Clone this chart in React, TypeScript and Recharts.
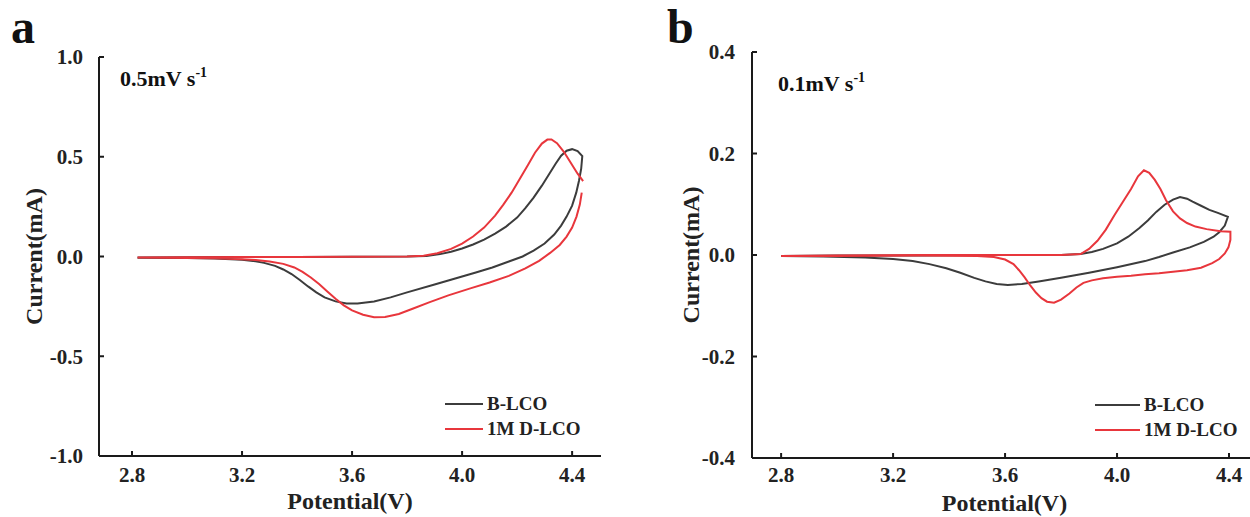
import React from 'react';
import { LineChart, Line, XAxis, YAxis, Legend } from 'recharts';

const FONT = '"Liberation Serif", "Times New Roman", serif';
const GRAY = '#3c3c3c';
const RED = '#e8363c';
const AXIS = '#1a1a1a';

const seriesNames = ['B-LCO', '1M D-LCO'];
const xTicks = [2.8, 3.2, 3.6, 4.0, 4.4];
const yTicksA = [-1, -0.5, 0, 0.5, 1];
const yTicksB = [-0.4, -0.2, 0, 0.2, 0.4];

// panel a, 0.5 mV/s : [potential V, current mA], in scan order
const bLcoA: [number, number][] = [
  [2.82, -0.005], [3.0, -0.004], [3.2, -0.003], [3.4, -0.002], [3.6, -0.001], [3.8, 0.0],
  [3.87, 0.003], [3.92, 0.012], [3.96, 0.024], [4.0, 0.04], [4.04, 0.06], [4.08, 0.085],
  [4.12, 0.115], [4.16, 0.15], [4.2, 0.195], [4.23, 0.242], [4.26, 0.295], [4.29, 0.355],
  [4.315, 0.41], [4.34, 0.465], [4.36, 0.505], [4.38, 0.53], [4.4, 0.538], [4.42, 0.528],
  [4.437, 0.503], [4.433, 0.44], [4.425, 0.38], [4.415, 0.32], [4.4, 0.255], [4.38, 0.2],
  [4.36, 0.155], [4.335, 0.11], [4.3, 0.065], [4.26, 0.03], [4.22, 0.0], [4.17, -0.025],
  [4.11, -0.055], [4.05, -0.08], [4.0, -0.1], [3.9, -0.14], [3.8, -0.18], [3.74, -0.205],
  [3.68, -0.226], [3.62, -0.236], [3.58, -0.235], [3.54, -0.225], [3.5, -0.205], [3.47, -0.18],
  [3.44, -0.15], [3.41, -0.118], [3.38, -0.088], [3.35, -0.065], [3.32, -0.047], [3.28, -0.032],
  [3.24, -0.022], [3.2, -0.016], [3.1, -0.01], [3.0, -0.007], [2.82, -0.006],
];

const dLcoA: [number, number][] = [
  [4.435, 0.32], [4.428, 0.26], [4.416, 0.2], [4.4, 0.145], [4.38, 0.1], [4.355, 0.058],
  [4.32, 0.018], [4.28, -0.022], [4.23, -0.06], [4.17, -0.097], [4.1, -0.13], [4.03, -0.16],
  [3.95, -0.195], [3.88, -0.23], [3.82, -0.262], [3.77, -0.288], [3.72, -0.303], [3.68, -0.304],
  [3.64, -0.292], [3.6, -0.27], [3.57, -0.245], [3.54, -0.212], [3.51, -0.175], [3.48, -0.138],
  [3.45, -0.105], [3.42, -0.077], [3.39, -0.055], [3.35, -0.037], [3.3, -0.025], [3.25, -0.018],
  [3.2, -0.014], [3.1, -0.009], [3.0, -0.007], [2.82, -0.005],
  [3.0, -0.004], [3.2, -0.003], [3.4, -0.002], [3.6, -0.001], [3.8, 0.0], [3.86, 0.004],
  [3.91, 0.016], [3.96, 0.038], [4.0, 0.065], [4.04, 0.1], [4.08, 0.145], [4.12, 0.205],
  [4.15, 0.26], [4.18, 0.32], [4.21, 0.39], [4.24, 0.46], [4.265, 0.52], [4.29, 0.566],
  [4.31, 0.586], [4.325, 0.587], [4.345, 0.568], [4.37, 0.525], [4.395, 0.47], [4.42, 0.415],
  [4.44, 0.378],
];

// panel b, 0.1 mV/s
const bLcoB: [number, number][] = [
  [2.8, -0.002], [3.0, -0.001], [3.3, -0.001], [3.6, 0.0], [3.8, 0.0], [3.87, 0.002],
  [3.91, 0.006], [3.95, 0.012], [4.0, 0.023], [4.04, 0.036], [4.08, 0.053], [4.11, 0.068],
  [4.14, 0.085], [4.17, 0.099], [4.2, 0.109], [4.225, 0.114], [4.25, 0.111], [4.27, 0.105],
  [4.3, 0.097], [4.33, 0.089], [4.36, 0.083], [4.396, 0.075],
  [4.385, 0.058], [4.365, 0.045], [4.345, 0.036], [4.31, 0.026], [4.26, 0.015], [4.2, 0.005],
  [4.15, -0.004], [4.1, -0.012], [4.0, -0.024], [3.9, -0.035], [3.8, -0.045], [3.72, -0.052],
  [3.66, -0.057], [3.61, -0.059], [3.57, -0.057], [3.53, -0.052], [3.49, -0.045], [3.44, -0.035],
  [3.39, -0.026], [3.33, -0.018], [3.27, -0.012], [3.2, -0.008], [3.1, -0.005], [2.95, -0.003],
  [2.8, -0.002],
];

const dLcoB: [number, number][] = [
  [2.8, -0.002], [3.0, -0.001], [3.3, 0.0], [3.6, 0.0], [3.8, 0.0], [3.87, 0.002],
  [3.9, 0.012], [3.93, 0.028], [3.96, 0.05], [3.99, 0.078], [4.02, 0.104], [4.05, 0.13],
  [4.075, 0.155], [4.096, 0.167], [4.115, 0.162], [4.135, 0.148], [4.155, 0.13], [4.175, 0.108],
  [4.2, 0.086], [4.225, 0.072], [4.25, 0.063], [4.28, 0.056], [4.32, 0.051], [4.37, 0.047],
  [4.405, 0.046],
  [4.405, 0.03], [4.398, 0.015], [4.385, 0.003], [4.365, -0.008], [4.34, -0.016], [4.3, -0.025],
  [4.25, -0.03], [4.2, -0.033], [4.15, -0.036], [4.1, -0.038], [4.05, -0.041], [4.0, -0.043],
  [3.95, -0.046], [3.91, -0.05], [3.88, -0.055], [3.855, -0.064], [3.83, -0.076], [3.8, -0.088],
  [3.775, -0.094], [3.75, -0.092], [3.73, -0.085], [3.71, -0.074], [3.69, -0.06], [3.67, -0.044],
  [3.65, -0.03], [3.63, -0.018], [3.6, -0.009], [3.56, -0.004], [3.5, -0.002], [3.3, -0.001],
  [3.0, -0.002], [2.8, -0.002],
];

const toPoints = (arr: [number, number][]) => arr.map(([v, i]) => ({ v, i }));

const tickFont = { fontSize: 21, fontWeight: 'bold', fontFamily: FONT, fill: '#222' };
const titleFont = { fontSize: 24, fontWeight: 'bold', fontFamily: FONT, fill: '#222' };

const LegendBox = ({ payload, lineLen }: any) => {
  const items = [...(payload || [])].sort(
    (a: any, b: any) => seriesNames.indexOf(a.value) - seriesNames.indexOf(b.value)
  );
  return (
    <div style={{ fontFamily: FONT, fontWeight: 'bold', fontSize: 19, color: '#222' }}>
      {items.map((p: any) => (
        <div key={p.value} style={{ display: 'flex', alignItems: 'center', height: 25 }}>
          <span
            style={{ display: 'inline-block', width: lineLen, borderTop: `2px solid ${p.color}`, marginRight: 4 }}
          />
          <span>{p.value}</span>
        </div>
      ))}
    </div>
  );
};

interface PanelProps {
  left: number;
  width: number;
  margin: { top: number; right: number; bottom: number; left: number };
  xAxisHeight: number;
  xDomain: [number, number];
  yDomain: [number, number];
  yTicks: number[];
  gray: [number, number][];
  red: [number, number][];
  xTickMargin: number;
  yTickMargin: number;
  yTitleOffset: number;
  xTitleOffset: number;
  legendPos: { left: number; top: number };
  legendLine: number;
}

const CvPanel = (p: PanelProps) => (
  <div style={{ position: 'absolute', left: p.left, top: 0 }}>
    <LineChart width={p.width} height={517} margin={p.margin}>
      <XAxis
        dataKey="v"
        type="number"
        domain={p.xDomain}
        allowDataOverflow
        ticks={xTicks}
        tickFormatter={(v: number) => v.toFixed(1)}
        height={p.xAxisHeight}
        axisLine={{ stroke: AXIS, strokeWidth: 2 }}
        tickLine={{ stroke: AXIS, strokeWidth: 2 }}
        tickSize={-5}
        tickMargin={p.xTickMargin}
        tick={tickFont}
        label={{ value: 'Potential(V)', position: 'insideBottom', offset: p.xTitleOffset, ...titleFont }}
      />
      <XAxis
        xAxisId="top"
        orientation="top"
        type="number"
        domain={p.xDomain}
        allowDataOverflow
        height={0}
        tick={false}
        tickLine={false}
        axisLine={{ stroke: AXIS, strokeWidth: 2 }}
      />
      <YAxis
        type="number"
        domain={p.yDomain}
        allowDataOverflow
        ticks={p.yTicks}
        tickFormatter={(v: number) => v.toFixed(1)}
        width={85}
        axisLine={{ stroke: AXIS, strokeWidth: 2 }}
        tickLine={{ stroke: AXIS, strokeWidth: 2 }}
        tickSize={-5}
        tickMargin={p.yTickMargin}
        tick={tickFont}
        label={{
          value: 'Current(mA)',
          angle: -90,
          position: 'insideLeft',
          offset: p.yTitleOffset,
          style: { textAnchor: 'middle' },
          ...titleFont,
        }}
      />
      <YAxis
        yAxisId="right"
        orientation="right"
        type="number"
        domain={p.yDomain}
        allowDataOverflow
        width={0}
        tick={false}
        tickLine={false}
        axisLine={{ stroke: AXIS, strokeWidth: 2 }}
      />
      <Line
        name={seriesNames[0]}
        data={toPoints(p.gray)}
        dataKey="i"
        type="linear"
        stroke={GRAY}
        strokeWidth={2}
        dot={false}
        isAnimationActive={false}
      />
      <Line
        name={seriesNames[1]}
        data={toPoints(p.red)}
        dataKey="i"
        type="linear"
        stroke={RED}
        strokeWidth={2}
        dot={false}
        isAnimationActive={false}
      />
      <Legend
        layout="vertical"
        align="center"
        verticalAlign="middle"
        wrapperStyle={{ left: p.legendPos.left, top: p.legendPos.top, width: 'auto' }}
        content={(props: any) => <LegendBox {...props} lineLen={p.legendLine} />}
      />
    </LineChart>
  </div>
);

const textStyle: React.CSSProperties = {
  position: 'absolute',
  fontFamily: FONT,
  fontWeight: 'bold',
  color: '#111',
  lineHeight: 1,
  whiteSpace: 'nowrap',
};

const Rate = ({ left, top, value }: { left: number; top: number; value: string }) => (
  <div style={{ ...textStyle, left, top, fontSize: 22 }}>
    {value}mV s
    <span style={{ fontSize: 14, position: 'relative', top: -9 }}>-1</span>
  </div>
);

export default function App() {
  return (
    <div
      style={{
        position: 'fixed',
        left: 0,
        top: 0,
        width: 1250,
        height: 517,
        overflow: 'hidden',
        background: '#ffffff',
      }}
    >
      <CvPanel
        left={0}
        width={620}
        margin={{ top: 57, right: 19, bottom: 0, left: 14 }}
        xAxisHeight={61}
        xDomain={[2.68, 4.505]}
        yDomain={[-1, 1]}
        yTicks={yTicksA}
        gray={bLcoA}
        red={dLcoA}
        xTickMargin={16}
        yTickMargin={21}
        yTitleOffset={19}
        xTitleOffset={8}
        legendPos={{ left: 445, top: 391 }}
        legendLine={38}
      />
      <CvPanel
        left={625}
        width={652}
        margin={{ top: 52, right: 20, bottom: 0, left: 42 }}
        xAxisHeight={59}
        xDomain={[2.696, 4.5]}
        yDomain={[-0.4, 0.4]}
        yTicks={yTicksB}
        gray={bLcoB}
        red={dLcoB}
        xTickMargin={14}
        yTickMargin={22}
        yTitleOffset={23}
        xTitleOffset={6}
        legendPos={{ left: 470, top: 392 }}
        legendLine={45}
      />
      <div style={{ ...textStyle, left: 11, top: 3, fontSize: 48 }}>a</div>
      <div style={{ ...textStyle, left: 667, top: 3, fontSize: 48 }}>b</div>
      <Rate left={120} top={68} value="0.5" />
      <Rate left={778} top={73} value="0.1" />
    </div>
  );
}
